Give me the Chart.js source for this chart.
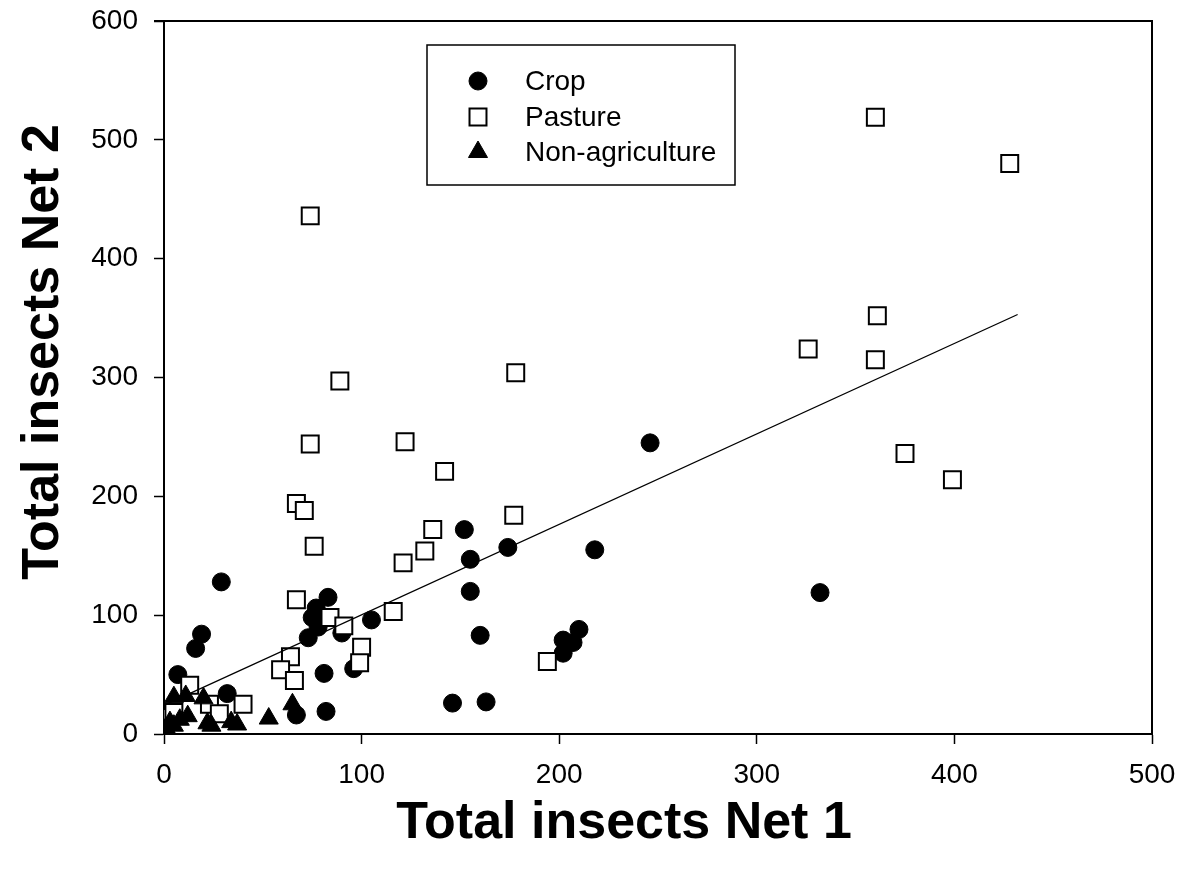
<!DOCTYPE html>
<html>
<head>
<meta charset="utf-8">
<script src="https://cdn.jsdelivr.net/npm/chart.js@4/dist/chart.umd.min.js"></script>
<style>
  body { margin: 0; background: #fff; }
  #wrap { width: 1188px; height: 873px; }
</style>
</head>
<body>
<div id="wrap"><canvas id="insectChart" width="1188" height="873"></canvas></div>
<script>
// values
const cropX = [7, 16, 19, 29, 32, 67, 82, 81, 96, 73, 78, 75, 77, 83, 90, 105, 146, 163, 152, 155, 155, 160, 174, 218, 202, 202, 207, 210, 246, 332];
const cropY = [50, 72, 84, 128, 34, 16, 19, 51, 55, 81, 90, 98, 106, 115, 85, 96, 26, 27, 172, 147, 120, 83, 157, 155, 68, 79, 77, 88, 245, 119];

const pastureX = [360, 428, 74, 361, 326, 360, 178, 89, 375, 74, 122, 399, 142, 177, 67, 71, 76, 136, 132, 121, 67, 116, 84, 91, 100, 99, 194, 64, 59, 66, 13, 23, 40, 28, 1, 5];
const pastureY = [519, 480, 436, 352, 324, 315, 304, 297, 236, 244, 246, 214, 221, 184, 194, 188, 158, 172, 154, 144, 113, 103, 98, 91, 73, 60, 61, 65, 54, 45, 41, 25, 25, 17, 14, 18];

const nonAgX = [5, 11, 20, 12, 3, 1, 5, 8, 22, 24, 34, 37, 53, 65, 0, 2];
const nonAgY = [31, 32, 30, 15, 10, 5, 7, 12, 9, 7, 10, 8, 13, 25, 2, 1];

const fitX = [1, 432];
const fitY = [25, 353];

const xTicks = [0, 100, 200, 300, 400, 500];
const yTicks = [0, 100, 200, 300, 400, 500, 600];

const seriesNames = ['Crop', 'Pasture', 'Non-agriculture'];

function toPoints(xs, ys) {
    return xs.map((x, i) => ({ x: x, y: ys[i] }));
}

const tickFont = { family: 'Liberation Sans, Arial, sans-serif', size: 28 };

// box on top/right, legend box and axis titles
const decorations = {
    id: 'decorations',
    afterDraw(chart) {
        const ctx = chart.ctx;
        const a = chart.chartArea;
        ctx.save();
        ctx.strokeStyle = '#000';
        ctx.lineWidth = 2;
        ctx.beginPath();
        ctx.moveTo(a.left - 10, a.top);
        ctx.lineTo(a.right, a.top);
        ctx.lineTo(a.right, a.bottom);
        ctx.stroke();

        // legend
        ctx.lineWidth = 1.5;
        ctx.strokeRect(427, 45, 308, 140);
        ctx.font = '28px Liberation Sans, Arial, sans-serif';
        ctx.fillStyle = '#000';
        ctx.textBaseline = 'middle';
        ctx.textAlign = 'left';
        const rows = [81, 117, 152];
        const styles = [
            { pointStyle: 'circle', radius: 9, rotation: 0, borderWidth: 1, fill: '#000' },
            { pointStyle: 'rect', radius: 12, rotation: 0, borderWidth: 2, fill: '#fff' },
            { pointStyle: 'triangle', radius: 11, rotation: 0, borderWidth: 1, fill: '#000' }
        ];
        seriesNames.forEach((name, i) => {
            ctx.fillStyle = styles[i].fill;
            ctx.strokeStyle = '#000';
            ctx.lineWidth = styles[i].borderWidth;
            Chart.helpers.drawPoint(ctx, styles[i], 478, rows[i]);
            ctx.fillStyle = '#000';
            ctx.fillText(name, 525, rows[i] + 1);
        });

        // axis titles
        ctx.font = 'bold 52px Liberation Sans, Arial, sans-serif';
        ctx.textAlign = 'center';
        ctx.fillText('Total insects Net 1', 624, 824);
        ctx.translate(44, 352);
        ctx.rotate(-Math.PI / 2);
        ctx.fillText('Total insects Net 2', 0, 0);
        ctx.restore();
    }
};

const ctxEl = document.getElementById('insectChart');
new Chart(ctxEl, {
    type: 'scatter',
    data: {
        datasets: [
            {
                label: 'fit',
                type: 'line',
                data: toPoints(fitX, fitY),
                borderColor: '#000',
                borderWidth: 1.3,
                pointRadius: 0,
                fill: false,
                order: 0
            },
            {
                label: seriesNames[2],
                data: toPoints(nonAgX, nonAgY),
                pointStyle: 'triangle',
                pointRadius: 11,
                backgroundColor: '#000',
                borderColor: '#000',
                borderWidth: 1,
                order: 1
            },
            {
                label: seriesNames[1],
                data: toPoints(pastureX, pastureY),
                pointStyle: 'rect',
                pointRadius: 12,
                backgroundColor: '#fff',
                borderColor: '#000',
                borderWidth: 2,
                order: 2
            },
            {
                label: seriesNames[0],
                data: toPoints(cropX, cropY),
                pointStyle: 'circle',
                pointRadius: 9,
                backgroundColor: '#000',
                borderColor: '#000',
                borderWidth: 1,
                order: 3
            }
        ]
    },
    options: {
        responsive: false,
        animation: false,
        devicePixelRatio: 1,
        layout: { padding: { left: 0, right: 36, top: 21, bottom: 0 } },
        plugins: {
            legend: { display: false },
            tooltip: { enabled: false }
        },
        scales: {
            x: {
                type: 'linear',
                min: 0,
                max: 500,
                afterFit: s => { s.height = 139; s.paddingLeft = 0; s.paddingRight = 0; },
                afterBuildTicks: s => { s.ticks = xTicks.map(v => ({ value: v })); },
                border: { display: true, color: '#000', width: 2 },
                grid: { drawOnChartArea: false, drawTicks: true, tickLength: 10, tickColor: '#000', tickWidth: 1.5 },
                ticks: { color: '#000', font: tickFont, padding: 14, maxRotation: 0 }
            },
            y: {
                type: 'linear',
                min: 0,
                max: 600,
                afterFit: s => { s.width = 164; s.paddingTop = 0; s.paddingBottom = 0; },
                afterBuildTicks: s => { s.ticks = yTicks.map(v => ({ value: v })); },
                border: { display: true, color: '#000', width: 2 },
                grid: { drawOnChartArea: false, drawTicks: true, tickLength: 10, tickColor: '#000', tickWidth: 1.5 },
                ticks: { color: '#000', font: tickFont, padding: 16 }
            }
        }
    },
    plugins: [decorations]
});
</script>
</body>
</html>
